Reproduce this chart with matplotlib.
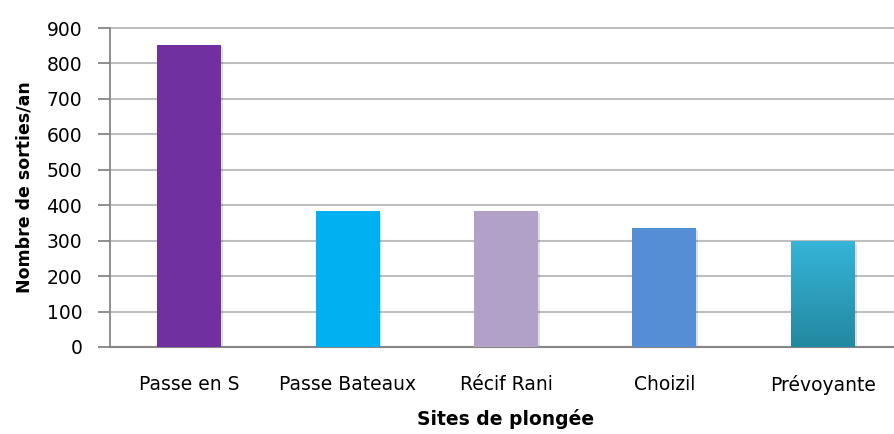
import matplotlib.pyplot as plt
import numpy as np
from matplotlib.colors import LinearSegmentedColormap

# donnees
sites = ["Passe en S", "Passe Bateaux", "Récif Rani", "Choizil", "Prévoyante"]
sorties = [852, 384, 384, 335, 298]
couleurs = ["#7030A0", "#00B0F0", "#B1A0C7", "#558ED5", "#2FA6C9"]
yticks = [0, 100, 200, 300, 400, 500, 600, 700, 800, 900]

plt.rcParams['font.family'] = ['DejaVu Sans']

fig = plt.figure(figsize=(8.94, 4.34), dpi=100)
W, H = 894, 434
ax = fig.add_axes([110 / W, (H - 347) / H, 792 / W, 319 / H])

x = np.arange(len(sites))
bw = 64 / 158.5
# petite ombre sous les barres
ax.bar(x + 0.012, sorties, width=bw, bottom=-6, color="#000000", alpha=0.12, zorder=2)
bars = ax.bar(x, sorties, width=bw, color=couleurs, zorder=3)

# degrade pour la derniere barre
b = bars[-1]
b.set_facecolor("none")
cmap = LinearSegmentedColormap.from_list("deg", ["#2388A0", "#36B4D8"])
grad = np.linspace(0, 1, 256).reshape(-1, 1)
bx, by = b.get_x(), b.get_y()
ax.imshow(grad, cmap=cmap, aspect="auto", origin="lower",
          extent=[bx, bx + b.get_width(), by, by + b.get_height()], zorder=3)

ax.set_xlim(-0.5, 4.5)
ax.set_ylim(0, 900)
ax.set_yticks(yticks)
ax.set_xticks(x)
ax.set_xticklabels(sites)
ax.yaxis.grid(True, color="#BFBFBF", linewidth=1.5, zorder=0)
ax.set_axisbelow(True)
for gl in ax.get_ygridlines():
    gl.set_clip_on(False)

for s in ["top", "right"]:
    ax.spines[s].set_visible(False)
ax.spines["left"].set_color("#868686")
ax.spines["bottom"].set_color("#868686")
ax.spines["left"].set_linewidth(1.3)
ax.spines["bottom"].set_linewidth(1.5)
ax.tick_params(axis="y", length=9, width=1.3, color="#868686", labelsize=13.5, pad=11)
ax.tick_params(axis="x", length=0, labelsize=13.5, pad=20)

ax.set_ylabel("Nombre de sorties/an", fontsize=12.5, fontweight="bold", labelpad=9)
ax.set_xlabel("Sites de plongée", fontsize=13.5, fontweight="bold", labelpad=10)

fig.savefig("out.png", dpi=100)
